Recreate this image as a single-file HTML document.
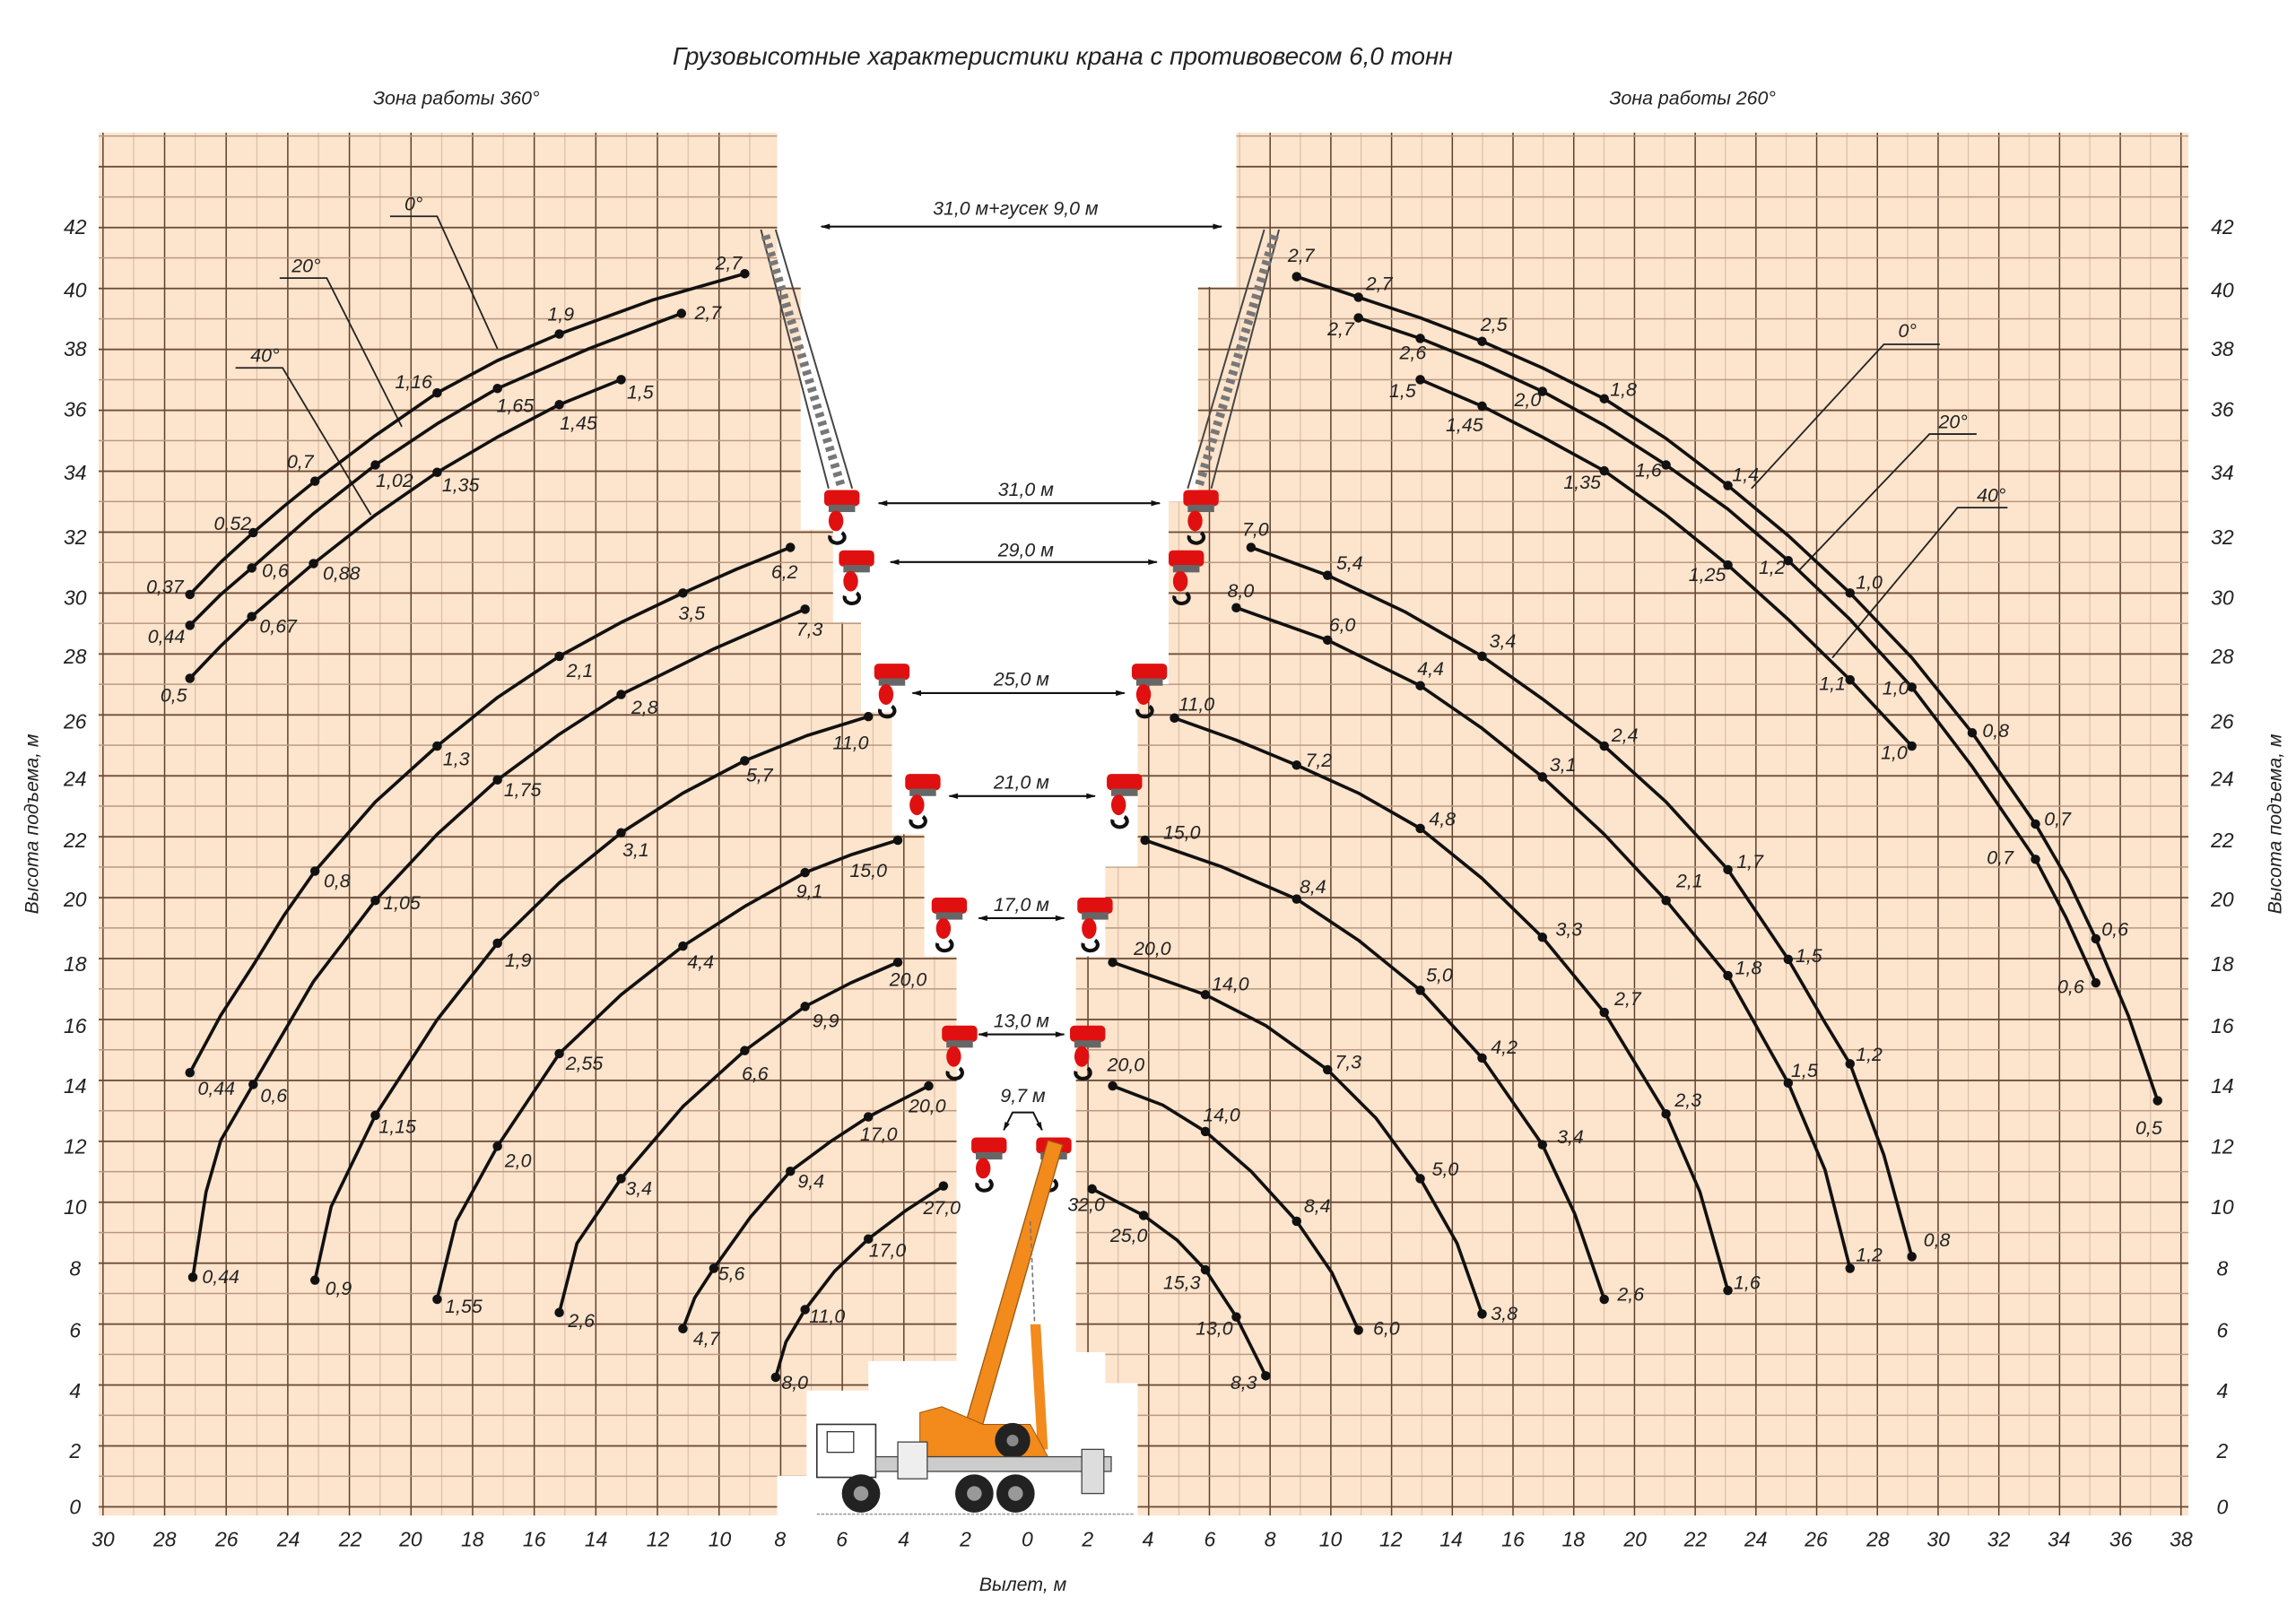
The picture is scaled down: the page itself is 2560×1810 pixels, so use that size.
<!DOCTYPE html>
<html><head><meta charset="utf-8"><style>
html,body{margin:0;padding:0;background:#fff}
svg{display:block}
text{font-family:"Liberation Sans","DejaVu Sans",sans-serif;font-style:italic;fill:#222}
.l{font-size:13px;text-anchor:middle}
.c{fill:none;stroke:#111;stroke-width:2.2;stroke-linejoin:round;stroke-linecap:round}
.ld{fill:none;stroke:#222;stroke-width:1.1}
.ar{stroke:#111;stroke-width:1.3;marker-start:url(#ah);marker-end:url(#ah)}
</style></head><body>
<svg width="2560" height="1810" viewBox="0 0 1560 1103" xmlns="http://www.w3.org/2000/svg">
<defs>
<marker id="ah" viewBox="0 0 10 10" refX="9" refY="5" markerWidth="8" markerHeight="5" orient="auto-start-reverse"><path d="M0,2 L10,5 L0,8 z" fill="#111"/></marker>
<pattern id="vl" patternUnits="userSpaceOnUse" x="69.5" y="0" width="41.86" height="10"><rect x="0" y="0" width="0.9" height="10" fill="#5a3e2c"/><rect x="20.93" y="0" width="0.7" height="10" fill="#d8bca6"/></pattern>
<pattern id="vr" patternUnits="userSpaceOnUse" x="697.5" y="0" width="41.26" height="10"><rect x="0" y="0" width="0.9" height="10" fill="#5a3e2c"/><rect x="20.63" y="0" width="0.7" height="10" fill="#d8bca6"/></pattern>
<pattern id="hz" patternUnits="userSpaceOnUse" x="0" y="1023.5" width="10" height="41.4"><rect x="0" y="0" width="10" height="1.1" fill="#6a4a36"/><rect x="0" y="20.7" width="10" height="0.9" fill="#b8987f"/></pattern>
<clipPath id="cl"><polygon points="67,90 528,90 528,195 544,195 544,360 566,360 566,423 585,423 585,484 606,484 606,567 628,567 628,650 650,650 650,925 590,925 590,945 548,945 548,1003 528,1003 528,1030 67,1030"/></clipPath>
<clipPath id="cr"><polygon points="840,90 1487,90 1487,1030 773,1030 773,940 751,940 751,919 731,919 731,650 751,650 751,589 773,589 773,465 794,465 794,341 814,341 814,195 840,195"/></clipPath>
<g id="hk"><rect x="-12" y="-7" width="24" height="11" rx="3" fill="#e01010"/><rect x="-9" y="3" width="18" height="5" fill="#666"/><ellipse cx="-4" cy="14" rx="5" ry="7" fill="#e01010"/><path d="M-8,24 a5,4 0 1 0 8,-2" fill="none" stroke="#111" stroke-width="2.5"/></g>
</defs>
<rect x="0" y="0" width="1560" height="1103" fill="#fff"/>
<g clip-path="url(#cl)"><rect x="0" y="0" width="1560" height="1103" fill="#fde4cc"/><rect x="0" y="0" width="1560" height="1103" fill="url(#vl)"/><rect x="0" y="0" width="1560" height="1103" fill="url(#hz)"/></g>
<g clip-path="url(#cr)"><rect x="0" y="0" width="1560" height="1103" fill="#fde4cc"/><rect x="0" y="0" width="1560" height="1103" fill="url(#vr)"/><rect x="0" y="0" width="1560" height="1103" fill="url(#hz)"/></g>

<text x="722" y="44" style="font-size:17px;text-anchor:middle">Грузовысотные характеристики крана с противовесом 6,0 тонн</text>
<text x="310" y="71" style="font-size:13px;text-anchor:middle">Зона работы 360°</text>
<text x="1150" y="71" style="font-size:13px;text-anchor:middle">Зона работы 260°</text>

<g style="font-size:14px;text-anchor:middle">
<text x="51" y="1029">0</text><text x="51" y="991">2</text><text x="51" y="950">4</text><text x="51" y="909">6</text><text x="51" y="867">8</text><text x="51" y="825">10</text><text x="51" y="784">12</text><text x="51" y="743">14</text><text x="51" y="702">16</text><text x="51" y="660">18</text><text x="51" y="616">20</text><text x="51" y="576">22</text><text x="51" y="534">24</text><text x="51" y="495">26</text><text x="51" y="451">28</text><text x="51" y="411">30</text><text x="51" y="370">32</text><text x="51" y="326">34</text><text x="51" y="283">36</text><text x="51" y="242">38</text><text x="51" y="202">40</text><text x="51" y="159">42</text>
<text x="1510" y="1029">0</text><text x="1510" y="991">2</text><text x="1510" y="950">4</text><text x="1510" y="909">6</text><text x="1510" y="867">8</text><text x="1510" y="825">10</text><text x="1510" y="784">12</text><text x="1510" y="743">14</text><text x="1510" y="702">16</text><text x="1510" y="660">18</text><text x="1510" y="616">20</text><text x="1510" y="576">22</text><text x="1510" y="534">24</text><text x="1510" y="495">26</text><text x="1510" y="451">28</text><text x="1510" y="411">30</text><text x="1510" y="370">32</text><text x="1510" y="326">34</text><text x="1510" y="283">36</text><text x="1510" y="242">38</text><text x="1510" y="202">40</text><text x="1510" y="159">42</text>
<text x="70" y="1051">30</text><text x="112" y="1051">28</text><text x="154" y="1051">26</text><text x="196" y="1051">24</text><text x="238" y="1051">22</text><text x="279" y="1051">20</text><text x="321" y="1051">18</text><text x="363" y="1051">16</text><text x="405" y="1051">14</text><text x="447" y="1051">12</text><text x="489" y="1051">10</text><text x="530" y="1051">8</text><text x="572" y="1051">6</text><text x="614" y="1051">4</text><text x="656" y="1051">2</text><text x="698" y="1051">0</text>
<text x="739" y="1051">2</text><text x="780" y="1051">4</text><text x="822" y="1051">6</text><text x="863" y="1051">8</text><text x="904" y="1051">10</text><text x="945" y="1051">12</text><text x="986" y="1051">14</text><text x="1028" y="1051">16</text><text x="1069" y="1051">18</text><text x="1111" y="1051">20</text><text x="1152" y="1051">22</text><text x="1193" y="1051">24</text><text x="1234" y="1051">26</text><text x="1276" y="1051">28</text><text x="1317" y="1051">30</text><text x="1358" y="1051">32</text><text x="1399" y="1051">34</text><text x="1441" y="1051">36</text><text x="1482" y="1051">38</text>
</g>
<text x="695" y="1081" style="font-size:13px;text-anchor:middle">Вылет, м</text>
<text transform="translate(26,560) rotate(-90)" style="font-size:13px;text-anchor:middle">Высота подъема, м</text>
<text transform="translate(1550,560) rotate(-90)" style="font-size:13px;text-anchor:middle">Высота подъема, м</text>

<g stroke="#444" stroke-width="1.2" fill="none">
<path d="M517,156 L563,332 M527,156 L579,332"/>
<path d="M520,160 L572,332" stroke-dasharray="3,3" stroke="#777" stroke-width="6"/>
<path d="M869,156 L823,332 M859,156 L807,332"/>
<path d="M866,160 L814,332" stroke-dasharray="3,3" stroke="#777" stroke-width="6"/>
</g>

<use href="#hk" x="572" y="340"/><use href="#hk" x="582" y="381"/><use href="#hk" x="606" y="458"/><use href="#hk" x="627" y="533"/><use href="#hk" x="645" y="617"/><use href="#hk" x="652" y="704"/><use href="#hk" x="672" y="780"/>
<use href="#hk" x="816" y="340"/><use href="#hk" x="806" y="381"/><use href="#hk" x="781" y="458"/><use href="#hk" x="764" y="533"/><use href="#hk" x="744" y="617"/><use href="#hk" x="739" y="704"/><use href="#hk" x="716" y="780"/>

<g>
<polygon points="650,988 662,988 722,778 712,775" fill="#f28a1c" stroke="#9a5a10" stroke-width="0.8"/>
<line x1="700" y1="830" x2="703" y2="900" stroke="#777" stroke-dasharray="3,2"/>
<polygon points="700,900 707,900 712,985 705,985" fill="#f28a1c"/>
<polygon points="625,960 640,956 668,968 700,968 712,990 640,996 625,990" fill="#f28a1c" stroke="#9a5a10" stroke-width="0.6"/>
<circle cx="688" cy="979" r="12" fill="#222"/><circle cx="688" cy="979" r="4" fill="#888"/>
<rect x="555" y="968" width="40" height="36" fill="#fff" stroke="#333" stroke-width="1"/>
<rect x="562" y="973" width="18" height="14" fill="none" stroke="#333" stroke-width="0.8"/>
<rect x="595" y="990" width="160" height="10" fill="#ccc" stroke="#444" stroke-width="0.8"/>
<rect x="735" y="985" width="15" height="30" fill="#ddd" stroke="#444" stroke-width="0.8"/>
<rect x="610" y="980" width="20" height="25" fill="#eee" stroke="#444" stroke-width="0.8"/>
<circle cx="585" cy="1015" r="13" fill="#222"/><circle cx="585" cy="1015" r="5" fill="#999"/>
<circle cx="662" cy="1015" r="13" fill="#222"/><circle cx="662" cy="1015" r="5" fill="#999"/>
<circle cx="690" cy="1015" r="13" fill="#222"/><circle cx="690" cy="1015" r="5" fill="#999"/>
<line x1="555" y1="1029" x2="770" y2="1029" stroke="#999" stroke-dasharray="2,1"/>
</g>

<line class="ar" x1="558" y1="154" x2="830" y2="154"/>
<text class="l" x="690" y="146">31,0 м+гусек 9,0 м</text>
<line class="ar" x1="597" y1="342" x2="788" y2="342"/><text class="l" x="697" y="337">31,0 м</text>
<line class="ar" x1="605" y1="382" x2="786" y2="382"/><text class="l" x="697" y="378">29,0 м</text>
<line class="ar" x1="620" y1="471" x2="764" y2="471"/><text class="l" x="694" y="466">25,0 м</text>
<line class="ar" x1="645" y1="541" x2="744" y2="541"/><text class="l" x="694" y="536">21,0 м</text>
<line class="ar" x1="665" y1="624" x2="723" y2="624"/><text class="l" x="694" y="619">17,0 м</text>
<line class="ar" x1="665" y1="703" x2="723" y2="703"/><text class="l" x="694" y="698">13,0 м</text>
<text class="l" x="695" y="749">9,7 м</text>
<path d="M682,768 L688,756 L702,756 L708,768" fill="none" stroke="#111" stroke-width="1.2" marker-start="url(#ah)" marker-end="url(#ah)"/>

<path class="ld" d="M265,147 L297,147 L338,237"/><text class="l" x="281" y="143">0°</text>
<path class="ld" d="M190,189 L222,189 L273,290"/><text class="l" x="208" y="185">20°</text>
<path class="ld" d="M160,250 L192,250 L252,350"/><text class="l" x="180" y="246">40°</text>
<path class="ld" d="M1318,234 L1280,234 L1190,332"/><text class="l" x="1296" y="229">0°</text>
<path class="ld" d="M1343,295 L1311,295 L1222,388"/><text class="l" x="1327" y="291">20°</text>
<path class="ld" d="M1364,345 L1330,345 L1245,447"/><text class="l" x="1353" y="341">40°</text>

<g class="c">
<polyline points="129,404 150,382 172,362 193,344 214,327 255,296 297,267 338,245 380,227 443,204 506,186"/>
<polyline points="129,425 150,404 171,386 213,349 255,316 297,288 338,264 400,237 463,213"/>
<polyline points="129,461 150,439 171,419 192,401 213,383 255,350 297,321 338,297 380,275 422,258"/>
<polyline points="129,729 150,690 172,656 193,622 214,592 255,545 297,507 338,474 380,446 422,423 464,403 500,387 537,372"/>
<polyline points="131,868 140,810 150,775 172,737 213,667 255,612 297,567 338,530 380,499 422,472 485,441 547,414"/>
<polyline points="214,870 225,820 255,758 297,693 338,641 380,600 422,566 464,539 506,517 548,500 590,487"/>
<polyline points="297,883 310,830 338,779 380,716 422,676 464,643 506,616 547,593 578,581 610,571"/>
<polyline points="380,892 392,845 422,801 464,752 506,714 547,684 578,668 610,654"/>
<polyline points="464,903 472,882 485,862 510,827 537,796 564,776 590,759 631,738"/>
<polyline points="527,936 534,912 547,890 567,864 590,842 615,823 641,806"/>
</g>
<g fill="#111">
<circle cx="129" cy="404" r="3.2"/><circle cx="172" cy="362" r="3.2"/><circle cx="214" cy="327" r="3.2"/><circle cx="297" cy="267" r="3.2"/><circle cx="380" cy="227" r="3.2"/><circle cx="506" cy="186" r="3.2"/>
<circle cx="129" cy="425" r="3.2"/><circle cx="171" cy="386" r="3.2"/><circle cx="255" cy="316" r="3.2"/><circle cx="338" cy="264" r="3.2"/><circle cx="463" cy="213" r="3.2"/>
<circle cx="129" cy="461" r="3.2"/><circle cx="171" cy="419" r="3.2"/><circle cx="213" cy="383" r="3.2"/><circle cx="297" cy="321" r="3.2"/><circle cx="380" cy="275" r="3.2"/><circle cx="422" cy="258" r="3.2"/>
<circle cx="129" cy="729" r="3.2"/><circle cx="214" cy="592" r="3.2"/><circle cx="297" cy="507" r="3.2"/><circle cx="380" cy="446" r="3.2"/><circle cx="464" cy="403" r="3.2"/><circle cx="537" cy="372" r="3.2"/>
<circle cx="131" cy="868" r="3.2"/><circle cx="172" cy="737" r="3.2"/><circle cx="255" cy="612" r="3.2"/><circle cx="338" cy="530" r="3.2"/><circle cx="422" cy="472" r="3.2"/><circle cx="547" cy="414" r="3.2"/>
<circle cx="214" cy="870" r="3.2"/><circle cx="255" cy="758" r="3.2"/><circle cx="338" cy="641" r="3.2"/><circle cx="422" cy="566" r="3.2"/><circle cx="506" cy="517" r="3.2"/><circle cx="590" cy="487" r="3.2"/>
<circle cx="297" cy="883" r="3.2"/><circle cx="338" cy="779" r="3.2"/><circle cx="380" cy="716" r="3.2"/><circle cx="464" cy="643" r="3.2"/><circle cx="547" cy="593" r="3.2"/><circle cx="610" cy="571" r="3.2"/>
<circle cx="380" cy="892" r="3.2"/><circle cx="422" cy="801" r="3.2"/><circle cx="506" cy="714" r="3.2"/><circle cx="547" cy="684" r="3.2"/><circle cx="610" cy="654" r="3.2"/>
<circle cx="464" cy="903" r="3.2"/><circle cx="485" cy="862" r="3.2"/><circle cx="537" cy="796" r="3.2"/><circle cx="590" cy="759" r="3.2"/><circle cx="631" cy="738" r="3.2"/>
<circle cx="527" cy="936" r="3.2"/><circle cx="547" cy="890" r="3.2"/><circle cx="590" cy="842" r="3.2"/><circle cx="641" cy="806" r="3.2"/>
</g>
<g>
<text class="l" x="112" y="403">0,37</text><text class="l" x="158" y="360">0,52</text><text class="l" x="204" y="318">0,7</text><text class="l" x="281" y="264">1,16</text><text class="l" x="381" y="218">1,9</text><text class="l" x="495" y="183">2,7</text>
<text class="l" x="113" y="437">0,44</text><text class="l" x="187" y="392">0,6</text><text class="l" x="268" y="331">1,02</text><text class="l" x="350" y="280">1,65</text><text class="l" x="481" y="217">2,7</text>
<text class="l" x="118" y="477">0,5</text><text class="l" x="189" y="430">0,67</text><text class="l" x="232" y="394">0,88</text><text class="l" x="313" y="334">1,35</text><text class="l" x="393" y="292">1,45</text><text class="l" x="435" y="271">1,5</text>
<text class="l" x="147" y="744">0,44</text><text class="l" x="229" y="603">0,8</text><text class="l" x="310" y="520">1,3</text><text class="l" x="394" y="460">2,1</text><text class="l" x="470" y="421">3,5</text><text class="l" x="533" y="393">6,2</text>
<text class="l" x="150" y="872">0,44</text><text class="l" x="186" y="749">0,6</text><text class="l" x="273" y="618">1,05</text><text class="l" x="355" y="541">1,75</text><text class="l" x="438" y="485">2,8</text><text class="l" x="550" y="432">7,3</text>
<text class="l" x="230" y="880">0,9</text><text class="l" x="270" y="770">1,15</text><text class="l" x="352" y="657">1,9</text><text class="l" x="432" y="582">3,1</text><text class="l" x="516" y="531">5,7</text><text class="l" x="578" y="509">11,0</text>
<text class="l" x="315" y="892">1,55</text><text class="l" x="352" y="793">2,0</text><text class="l" x="397" y="727">2,55</text><text class="l" x="476" y="658">4,4</text><text class="l" x="550" y="610">9,1</text><text class="l" x="590" y="596">15,0</text>
<text class="l" x="395" y="902">2,6</text><text class="l" x="434" y="812">3,4</text><text class="l" x="513" y="734">6,6</text><text class="l" x="561" y="698">9,9</text><text class="l" x="617" y="670">20,0</text>
<text class="l" x="480" y="914">4,7</text><text class="l" x="497" y="870">5,6</text><text class="l" x="551" y="807">9,4</text><text class="l" x="597" y="775">17,0</text><text class="l" x="630" y="756">20,0</text>
<text class="l" x="540" y="944">8,0</text><text class="l" x="562" y="899">11,0</text><text class="l" x="603" y="854">17,0</text><text class="l" x="640" y="825">27,0</text>
</g>

<g class="c">
<polyline points="881,188 923,202 965,216 1007,232 1048,250 1090,271 1132,298 1174,330 1215,364 1257,403 1299,447 1340,498 1383,560 1405,598 1424,638 1446,690 1466,748"/>
<polyline points="923,216 965,230 1007,247 1048,266 1090,289 1132,316 1174,346 1215,381 1257,421 1299,467 1340,521 1383,584 1404,624 1424,668"/>
<polyline points="965,258 1007,276 1048,297 1090,320 1132,350 1174,384 1215,421 1257,462 1299,507"/>
<polyline points="850,372 902,391 955,416 1007,446 1048,475 1090,507 1132,545 1174,591 1215,652 1240,695 1257,723 1280,785 1299,854"/>
<polyline points="840,413 902,435 965,466 1007,495 1048,528 1090,567 1132,612 1174,663 1215,736 1240,795 1257,862"/>
<polyline points="798,488 840,503 881,520 923,539 965,563 1007,597 1048,637 1090,688 1132,757 1155,810 1174,877"/>
<polyline points="778,571 830,589 881,611 923,639 965,673 1007,719 1048,778 1070,825 1090,883"/>
<polyline points="756,654 819,676 860,697 902,727 935,760 965,801 990,845 1007,893"/>
<polyline points="756,738 790,751 819,769 850,796 881,830 905,865 923,904"/>
<polyline points="742,808 777,826 800,843 819,863 840,895 860,935"/>
</g>
<g fill="#111">
<circle cx="881" cy="188" r="3.2"/><circle cx="923" cy="202" r="3.2"/><circle cx="1007" cy="232" r="3.2"/><circle cx="1090" cy="271" r="3.2"/><circle cx="1174" cy="330" r="3.2"/><circle cx="1257" cy="403" r="3.2"/><circle cx="1340" cy="498" r="3.2"/><circle cx="1383" cy="560" r="3.2"/><circle cx="1424" cy="638" r="3.2"/><circle cx="1466" cy="748" r="3.2"/>
<circle cx="923" cy="216" r="3.2"/><circle cx="965" cy="230" r="3.2"/><circle cx="1048" cy="266" r="3.2"/><circle cx="1132" cy="316" r="3.2"/><circle cx="1215" cy="381" r="3.2"/><circle cx="1299" cy="467" r="3.2"/><circle cx="1383" cy="584" r="3.2"/><circle cx="1424" cy="668" r="3.2"/>
<circle cx="965" cy="258" r="3.2"/><circle cx="1007" cy="276" r="3.2"/><circle cx="1090" cy="320" r="3.2"/><circle cx="1174" cy="384" r="3.2"/><circle cx="1257" cy="462" r="3.2"/><circle cx="1299" cy="507" r="3.2"/>
<circle cx="850" cy="372" r="3.2"/><circle cx="902" cy="391" r="3.2"/><circle cx="1007" cy="446" r="3.2"/><circle cx="1090" cy="507" r="3.2"/><circle cx="1174" cy="591" r="3.2"/><circle cx="1215" cy="652" r="3.2"/><circle cx="1257" cy="723" r="3.2"/><circle cx="1299" cy="854" r="3.2"/>
<circle cx="840" cy="413" r="3.2"/><circle cx="902" cy="435" r="3.2"/><circle cx="965" cy="466" r="3.2"/><circle cx="1048" cy="528" r="3.2"/><circle cx="1132" cy="612" r="3.2"/><circle cx="1174" cy="663" r="3.2"/><circle cx="1215" cy="736" r="3.2"/><circle cx="1257" cy="862" r="3.2"/>
<circle cx="798" cy="488" r="3.2"/><circle cx="881" cy="520" r="3.2"/><circle cx="965" cy="563" r="3.2"/><circle cx="1048" cy="637" r="3.2"/><circle cx="1090" cy="688" r="3.2"/><circle cx="1132" cy="757" r="3.2"/><circle cx="1174" cy="877" r="3.2"/>
<circle cx="778" cy="571" r="3.2"/><circle cx="881" cy="611" r="3.2"/><circle cx="965" cy="673" r="3.2"/><circle cx="1007" cy="719" r="3.2"/><circle cx="1048" cy="778" r="3.2"/><circle cx="1090" cy="883" r="3.2"/>
<circle cx="756" cy="654" r="3.2"/><circle cx="819" cy="676" r="3.2"/><circle cx="902" cy="727" r="3.2"/><circle cx="965" cy="801" r="3.2"/><circle cx="1007" cy="893" r="3.2"/>
<circle cx="756" cy="738" r="3.2"/><circle cx="819" cy="769" r="3.2"/><circle cx="881" cy="830" r="3.2"/><circle cx="923" cy="904" r="3.2"/>
<circle cx="742" cy="808" r="3.2"/><circle cx="777" cy="826" r="3.2"/><circle cx="819" cy="863" r="3.2"/><circle cx="840" cy="895" r="3.2"/><circle cx="860" cy="935" r="3.2"/>
</g>
<g>
<text class="l" x="884" y="178">2,7</text><text class="l" x="937" y="197">2,7</text><text class="l" x="1015" y="225">2,5</text><text class="l" x="1103" y="269">1,8</text><text class="l" x="1186" y="327">1,4</text><text class="l" x="1270" y="400">1,0</text><text class="l" x="1356" y="501">0,8</text><text class="l" x="1398" y="561">0,7</text><text class="l" x="1437" y="636">0,6</text><text class="l" x="1460" y="771">0,5</text>
<text class="l" x="911" y="228">2,7</text><text class="l" x="960" y="244">2,6</text><text class="l" x="1038" y="276">2,0</text><text class="l" x="1120" y="324">1,6</text><text class="l" x="1204" y="390">1,2</text><text class="l" x="1288" y="472">1,0</text><text class="l" x="1359" y="587">0,7</text><text class="l" x="1407" y="675">0,6</text>
<text class="l" x="953" y="270">1,5</text><text class="l" x="995" y="293">1,45</text><text class="l" x="1075" y="332">1,35</text><text class="l" x="1160" y="395">1,25</text><text class="l" x="1245" y="469">1,1</text><text class="l" x="1287" y="516">1,0</text>
<text class="l" x="853" y="364">7,0</text><text class="l" x="917" y="387">5,4</text><text class="l" x="1021" y="440">3,4</text><text class="l" x="1104" y="504">2,4</text><text class="l" x="1189" y="590">1,7</text><text class="l" x="1229" y="654">1,5</text><text class="l" x="1270" y="721">1,2</text><text class="l" x="1316" y="847">0,8</text>
<text class="l" x="843" y="406">8,0</text><text class="l" x="912" y="429">6,0</text><text class="l" x="972" y="459">4,4</text><text class="l" x="1062" y="524">3,1</text><text class="l" x="1148" y="603">2,1</text><text class="l" x="1188" y="662">1,8</text><text class="l" x="1226" y="732">1,5</text><text class="l" x="1270" y="857">1,2</text>
<text class="l" x="813" y="483">11,0</text><text class="l" x="896" y="521">7,2</text><text class="l" x="980" y="561">4,8</text><text class="l" x="1066" y="636">3,3</text><text class="l" x="1106" y="683">2,7</text><text class="l" x="1147" y="752">2,3</text><text class="l" x="1187" y="876">1,6</text>
<text class="l" x="803" y="570">15,0</text><text class="l" x="892" y="607">8,4</text><text class="l" x="978" y="667">5,0</text><text class="l" x="1022" y="716">4,2</text><text class="l" x="1067" y="777">3,4</text><text class="l" x="1108" y="884">2,6</text>
<text class="l" x="783" y="649">20,0</text><text class="l" x="836" y="673">14,0</text><text class="l" x="916" y="726">7,3</text><text class="l" x="982" y="799">5,0</text><text class="l" x="1022" y="897">3,8</text>
<text class="l" x="765" y="728">20,0</text><text class="l" x="830" y="762">14,0</text><text class="l" x="895" y="824">8,4</text><text class="l" x="942" y="907">6,0</text>
<text class="l" x="738" y="823">32,0</text><text class="l" x="767" y="844">25,0</text><text class="l" x="803" y="876">15,3</text><text class="l" x="825" y="907">13,0</text><text class="l" x="845" y="944">8,3</text>
</g>
</svg>
</body></html>
